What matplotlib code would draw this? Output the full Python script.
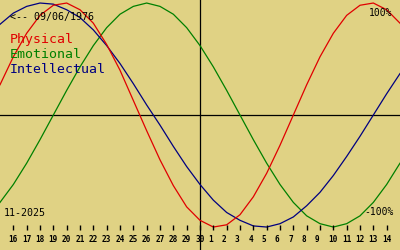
import matplotlib
matplotlib.use("Agg")
import matplotlib.pyplot as plt

# ---------------------------------------------------------------------------
# Biorhythm chart, 15 Nov 2025 .. 15 Dec 2025
# ---------------------------------------------------------------------------
BG     = "#e0d284"
RED    = "#e00000"
GREEN  = "#008000"
NAVY   = "#000080"
INK    = "#000000"

# one point per day, starting at the left edge (Nov 15)
days = list(range(31))
physical = [27, 52, 73, 89, 98, 100, 94, 82, 63, 40, 13, -14, -40, -63, -82,
            -94, -100, -98, -89, -73, -52, -27, 0, 27, 52, 73, 89, 98, 100, 94, 82]
emotional = [-78, -62, -43, -22, 0, 22, 43, 62, 78, 90, 97, 100, 97, 90, 78,
             62, 43, 22, 0, -22, -43, -62, -78, -90, -97, -100, -97, -90, -78, -62, -43]
intellectual = [81, 91, 97, 100, 99, 94, 87, 76, 62, 46, 28, 9, -9, -28, -46,
                -62, -76, -87, -94, -99, -100, -97, -91, -81, -69, -54, -37, -19, 0, 19, 37]

tick_days = list(range(1, 30))
tick_labels = [16, 17, 18, 19, 20, 21, 22, 23, 24, 25, 26, 27, 28, 29, 30,
               1, 2, 3, 4, 5, 6, 7, 8, 9, 10, 11, 12, 13, 14]

MONO = "DejaVu Sans Mono"

fig = plt.figure(figsize=(4, 2.5), dpi=100, facecolor=BG)
ax = fig.add_axes([0, 0, 1, 1])
ax.set_facecolor(BG)
ax.set_xlim(0, 30)
ax.set_ylim(-120.5, 102.7)
ax.axis("off")

# axes cross
ax.axhline(0, color=INK, lw=0.9)
ax.axvline(15, color=INK, lw=0.9)

ax.plot(days, emotional, color=GREEN, lw=0.9)
ax.plot(days, intellectual, color=NAVY, lw=0.9)
ax.plot(days, physical, color=RED, lw=0.9)

# day ticks along the bottom
ax.vlines(tick_days, -98.5, -103, color=INK, lw=1.0)
for d, lab in zip(tick_days, tick_labels):
    ax.text(d, -106.8, f"{lab:<2}", ha="center", va="top", fontsize=5.6,
            fontweight="bold", family=MONO, color=INK)

# labels
ax.text(0.025, 0.92, "<-- 09/06/1976", transform=ax.transAxes, fontsize=7.2,
        family=MONO, color=INK, va="baseline")
ax.text(0.025, 0.828, "Physical", transform=ax.transAxes, fontsize=9.5,
        family=MONO, color=RED, va="baseline")
ax.text(0.025, 0.768, "Emotional", transform=ax.transAxes, fontsize=9.5,
        family=MONO, color=GREEN, va="baseline")
ax.text(0.025, 0.708, "Intellectual", transform=ax.transAxes, fontsize=9.5,
        family=MONO, color=NAVY, va="baseline")
ax.text(0.01, 0.136, "11-2025", transform=ax.transAxes, fontsize=7.2,
        family=MONO, color=INK, va="baseline")
ax.text(0.98, 0.938, "100%", transform=ax.transAxes, fontsize=7,
        family=MONO, color=INK, va="baseline", ha="right")
ax.text(0.985, 0.14, "-100%", transform=ax.transAxes, fontsize=7,
        family=MONO, color=INK, va="baseline", ha="right")

fig.savefig("out.png", dpi=100, facecolor=BG)
